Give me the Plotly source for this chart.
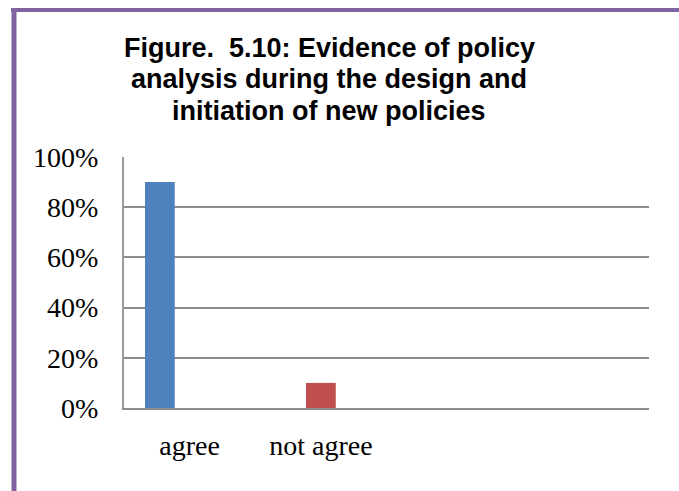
import plotly.graph_objects as go

# Response categories (two unused slots follow, as in the source workbook)
categories = ["agree", "not agree", "", ""]
positions = [0, 1, 2, 3]

# Share of respondents, one series per column of the source table
series_agree = [0.90, 0.0, 0.0, 0.0]
series_not_agree = [0.0, 0.10, 0.0, 0.0]
series_blank = [0.0, 0.0, 0.0, 0.0]

y_ticks = [0, 0.2, 0.4, 0.6, 0.8, 1.0]

title_lines = ["Figure.  5.10: Evidence of policy",
               "analysis during the design and",
               "initiation of new policies"]

W, H = 679, 491
L, R, T, B = 124, 30, 157, 83
PW, PH = W - L - R, H - T - B


def px_x(px):
    return (px - L) / PW


def px_y(py):
    return (H - B - py) / PH


fig = go.Figure()
for vals, color in [(series_agree, "#4F81BD"),
                    (series_not_agree, "#C0504D"),
                    (series_blank, "#9BBB59")]:
    fig.add_trace(go.Bar(x=positions, y=vals, marker=dict(color=color, line=dict(width=0)),
                         showlegend=False, hoverinfo="skip"))

serif = "Liberation Serif, Times New Roman, serif"
sans = "Liberation Sans, Arial, sans-serif"

# Chart title, one line per annotation so the line pitch can be set
title_font_size = 27
line_pitch = 31.6
first_center = 47.7
annotations = []
for i, line in enumerate(title_lines):
    annotations.append(dict(
        text=line, xref="paper", yref="paper",
        x=px_x(329), y=px_y(first_center + i * line_pitch),
        xanchor="center", yanchor="middle", showarrow=False,
        font=dict(family=sans, size=title_font_size, color="black", weight="bold"),
    ))

fig.update_layout(
    width=W, height=H,
    margin=dict(l=L, r=R, t=T, b=B),
    paper_bgcolor="white", plot_bgcolor="white",
    barmode="group", bargap=0.32, bargroupgap=0,
    annotations=annotations,
    xaxis=dict(range=[-0.5, 3.5], tickvals=positions, ticktext=categories,
               showgrid=False, zeroline=False, showline=True, linecolor="#8c8c8c",
               linewidth=2, ticks="", ticklabelstandoff=11,
               tickfont=dict(family=serif, size=28, color="black")),
    yaxis=dict(range=[0, 1], tickvals=y_ticks, tickformat=".0%",
               showgrid=True, gridcolor="#8c8c8c", gridwidth=1.5,
               zeroline=False, showline=True, linecolor="#9a9a9a", linewidth=2,
               ticks="", ticklabelstandoff=18,
               tickfont=dict(family=serif, size=28, color="black")),
    shapes=[
        dict(type="line", xref="paper", yref="paper",
             x0=px_x(11), x1=px_x(W + 5), y0=px_y(10), y1=px_y(10),
             line=dict(color="#8064A2", width=4)),
        dict(type="line", xref="paper", yref="paper",
             x0=px_x(14), x1=px_x(14), y0=px_y(8), y1=px_y(H + 5),
             line=dict(color="#8064A2", width=5)),
    ],
)

fig.write_html("out.html")
